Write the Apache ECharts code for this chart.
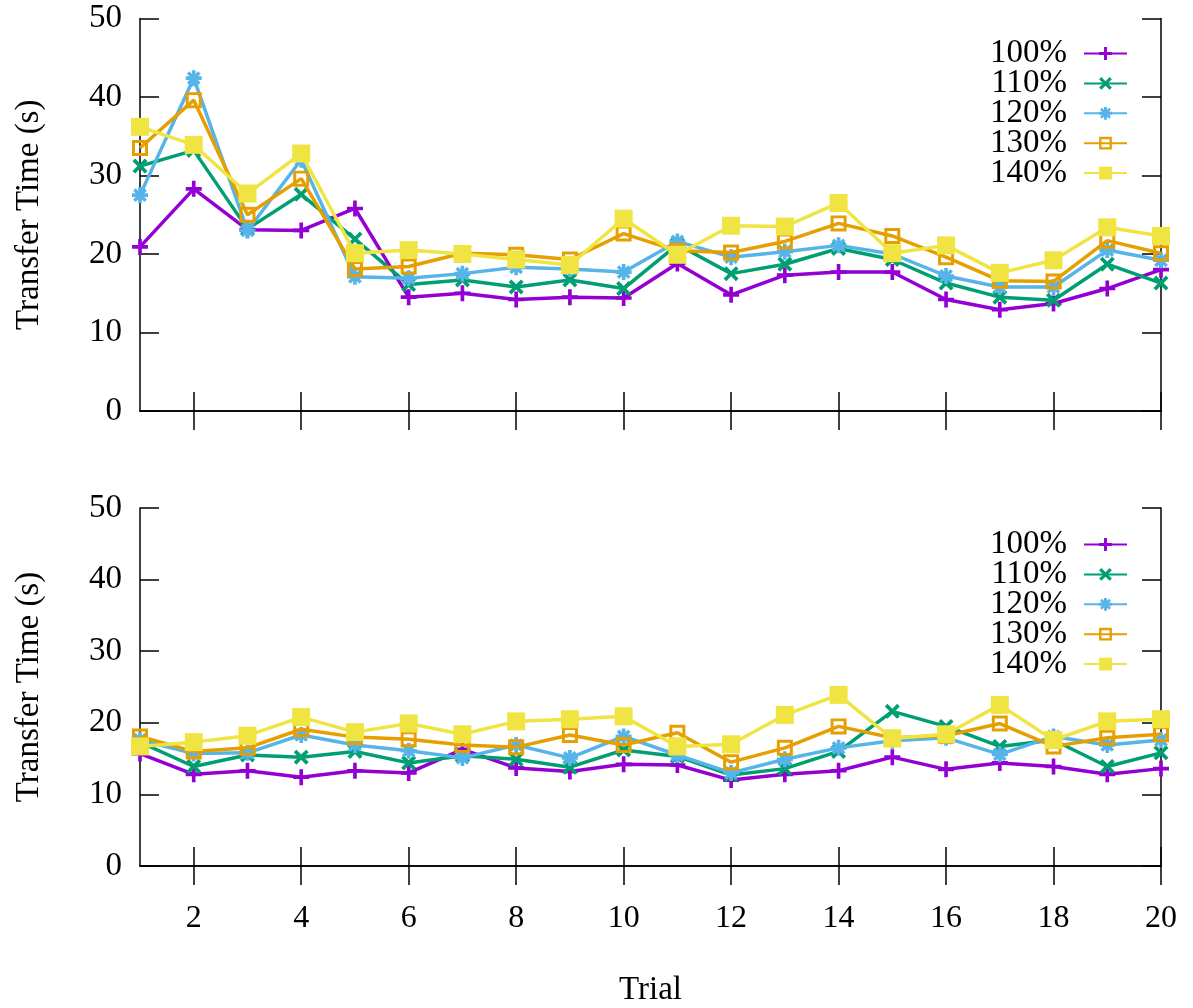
<!DOCTYPE html>
<html>
<head>
<meta charset="utf-8">
<script src="https://cdn.jsdelivr.net/npm/echarts@6/dist/echarts.min.js"></script>
<style>html,body{margin:0;padding:0;background:#fff;}#chart{width:1193px;height:1008px;}</style>
</head>
<body>
<div id="chart"></div>
<script>
const trials = [1,2,3,4,5,6,7,8,9,10,11,12,13,14,15,16,17,18,19,20];
const seriesNames = ['100%','110%','120%','130%','140%'];
const yTicks = [0,10,20,30,40,50];

// Top panel
const top100 = [20.9,28.3,23.1,23.0,25.8,14.5,15.0,14.2,14.5,14.4,18.8,14.8,17.3,17.7,17.7,14.2,12.9,13.7,15.6,18.0];
const top110 = [31.2,33.2,23.2,27.6,21.9,16.1,16.7,15.8,16.7,15.6,21.2,17.5,18.7,20.7,19.3,16.3,14.5,14.1,18.7,16.3];
const top120 = [27.5,42.4,23.0,32.0,17.1,16.9,17.5,18.3,18.1,17.7,21.6,19.6,20.3,21.1,20.0,17.2,15.8,15.8,20.5,19.2];
const top130 = [33.5,39.6,25.0,29.6,18.1,18.4,20.1,19.9,19.3,22.6,20.4,20.2,21.6,23.9,22.3,19.6,16.6,16.5,21.7,20.1];
const top140 = [36.2,33.9,27.7,32.8,20.1,20.5,20.0,19.3,18.6,24.5,19.9,23.6,23.5,26.5,20.1,21.1,17.6,19.2,23.4,22.3];

// Bottom panel
const bot100 = [15.7,12.8,13.3,12.4,13.3,13.0,16.3,13.7,13.2,14.2,14.1,12.0,12.8,13.3,15.2,13.5,14.4,13.9,12.8,13.6];
const bot110 = [17.3,13.9,15.5,15.2,16.0,14.4,15.4,14.9,13.8,16.2,15.3,12.7,13.6,16.0,21.6,19.5,16.7,17.6,13.9,15.8];
const bot120 = [17.6,15.7,15.8,18.3,16.9,16.1,15.1,16.9,15.1,18.1,15.5,13.0,14.9,16.5,17.5,17.9,15.6,18.1,16.9,17.6];
const bot130 = [18.1,16.0,16.5,19.1,18.0,17.7,16.9,16.6,18.3,16.9,18.6,14.5,16.5,19.5,17.9,18.2,19.9,16.7,17.9,18.4];
const bot140 = [16.7,17.3,18.2,20.8,18.7,19.9,18.4,20.2,20.5,20.9,16.7,17.0,21.1,23.9,17.8,18.4,22.5,17.6,20.2,20.5];

const colors = ['#9400d3','#009e73','#56b4e9','#e69f00','#f0e442'];
const plusPath = 'path://M-1.6,-7 L1.6,-7 L1.6,-1.6 L7,-1.6 L7,1.6 L1.6,1.6 L1.6,7 L-1.6,7 L-1.6,1.6 L-7,1.6 L-7,-1.6 L-1.6,-1.6 Z';
const xSub = 'M3.89,-6.01 L6.01,-3.89 L2.12,0 L6.01,3.89 L3.89,6.01 L0,2.12 L-3.89,6.01 L-6.01,3.89 L-2.12,0 L-6.01,-3.89 L-3.89,-6.01 L0,-2.12 Z';
const xPath = 'path://' + xSub;
const starPath = plusPath + ' ' + xSub;
const openSq = 'path://M-7,-7 L7,-7 L7,7 L-7,7 Z M-4.4,-4.4 L-4.4,4.4 L4.4,4.4 L4.4,-4.4 Z';
const symbols = [plusPath, xPath, starPath, openSq, 'rect'];
const symSizes = [16, 15, 16, 16, 18];

const FONT = 'Liberation Serif';
const topData = [top100, top110, top120, top130, top140];
const botData = [bot100, bot110, bot120, bot130, bot140];

const grids = [
  {left: 140, top: 18.5, width: 1021, height: 392.5},
  {left: 140, top: 508, width: 1021, height: 361}
];

const tickInt = (idx) => trials[idx] % 2 === 0;
const axisLine = {show: true, lineStyle: {color: '#000', width: 1.5}};

const xAxes = [];
const yAxes = [];
[0,1].forEach(g => {
  xAxes.push({
    gridIndex: g, type: 'category', data: trials, boundaryGap: false, position: 'bottom',
    axisLine: axisLine,
    axisTick: {show: true, inside: true, length: 19, interval: tickInt, lineStyle: {color: '#000', width: 1.5}},
    axisLabel: {show: g === 1, interval: tickInt, color: '#000', fontFamily: FONT, fontSize: 32, margin: 37},
    splitLine: {show: false},
    name: g === 1 ? 'Trial' : '', nameLocation: 'middle', nameGap: 108,
    nameTextStyle: {color: '#000', fontFamily: FONT, fontSize: 33}
  });
  xAxes.push({
    gridIndex: g, type: 'category', data: trials, boundaryGap: false, position: 'top',
    axisLine: axisLine,
    axisTick: {show: true, inside: true, length: 19, interval: tickInt, lineStyle: {color: '#000', width: 1.5}},
    axisLabel: {show: false}, splitLine: {show: false}
  });
  yAxes.push({
    gridIndex: g, type: 'value', min: yTicks[0], max: yTicks[yTicks.length-1], interval: 10, position: 'left',
    axisLine: axisLine,
    axisTick: {show: true, inside: true, length: 19, lineStyle: {color: '#000', width: 1.5}},
    axisLabel: {color: '#000', fontFamily: FONT, fontSize: 33, margin: 18},
    splitLine: {show: false},
    name: 'Transfer Time (s)', nameLocation: 'middle', nameGap: 94, nameRotate: 90,
    nameTextStyle: {color: '#000', fontFamily: FONT, fontSize: 33}
  });
  yAxes.push({
    gridIndex: g, type: 'value', min: yTicks[0], max: yTicks[yTicks.length-1], interval: 10, position: 'right',
    axisLine: axisLine,
    axisTick: {show: true, inside: true, length: 19, lineStyle: {color: '#000', width: 1.5}},
    axisLabel: {show: false}, splitLine: {show: false}
  });
});

const series = [];
[topData, botData].forEach((dataset, g) => {
  dataset.forEach((vals, i) => {
    series.push({
      name: seriesNames[i], type: 'line', xAxisIndex: g*2, yAxisIndex: g*2,
      data: vals, symbol: symbols[i], symbolSize: symSizes[i], showAllSymbol: true,
      lineStyle: {color: colors[i], width: 3.5},
      itemStyle: {color: colors[i], borderWidth: 0},
      emphasis: {disabled: true}, z: 2 + i
    });
  });
});

const legendBase = {
  orient: 'vertical', right: 60, align: 'right', itemWidth: 43, itemHeight: 16, itemGap: -3.1,
  textStyle: {color: '#000', fontFamily: FONT, fontSize: 33, lineHeight: 29.7, padding: [0, 12, 0, 0]},
  data: seriesNames, selectedMode: false
};

const chart = echarts.init(document.getElementById('chart'), null, {renderer: 'canvas'});
chart.setOption({
  animation: false,
  backgroundColor: '#fff',
  grid: grids,
  xAxis: xAxes,
  yAxis: yAxes,
  legend: [
    Object.assign({}, legendBase, {top: 32}),
    Object.assign({}, legendBase, {top: 523})
  ],
  series: series
});
</script>
</body>
</html>
